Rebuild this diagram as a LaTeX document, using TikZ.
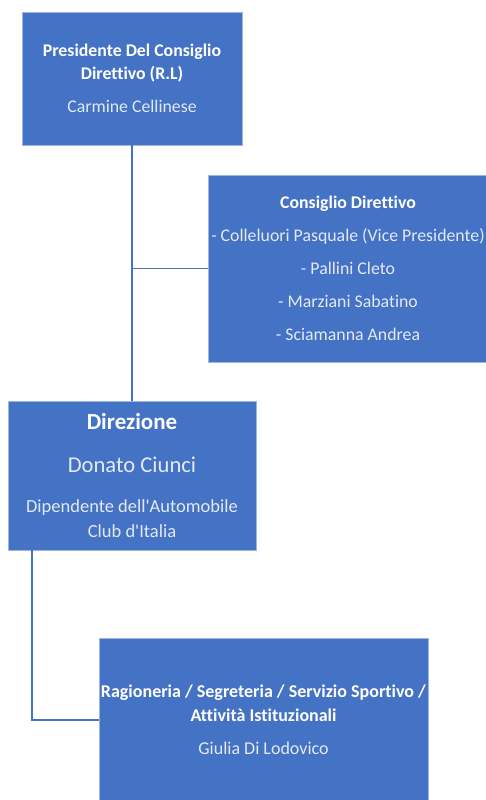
\documentclass[tikz,border=0pt]{standalone}
\usepackage{fontspec}
\setmainfont{Carlito}[Ligatures={TeXOff,CommonOff}]
\definecolor{boxblue}{HTML}{4472C4}
\definecolor{boxedge}{HTML}{9DB5E0}
\definecolor{nametext}{HTML}{E3E9F5}
\newcommand{\nm}[1]{\textcolor{nametext}{#1}}
\tikzset{
  orgbox/.style={draw=boxedge, line width=0.6pt, fill=boxblue, text=white, inner sep=0pt, align=center},
  link/.style={draw=boxblue, line width=1.6pt}
}
\begin{document}
\begin{tikzpicture}[x=1pt, y=-1pt]
\useasboundingbox (0,0) rectangle (485,800);
\node[orgbox, minimum width=220, minimum height=133, font=\fontsize{17.8}{23}\selectfont] (pres) at (132,78.5)
  {\textbf{Presidente Del Consiglio}\\\textbf{Direttivo (R.L)}\\[10pt]\nm{Carmine Cellinese}};
\node[orgbox, minimum width=280, minimum height=187, font=\fontsize{17.8}{33}\selectfont] (consiglio) at (348,268.5)
  {\textbf{Consiglio Direttivo}\\\nm{- Colleluori Pasquale (Vice Presidente)}\\\nm{- Pallini Cleto}\\\nm{- Marziani Sabatino}\\\nm{- Sciamanna Andrea}};
\node[orgbox, minimum width=248, minimum height=149, font=\fontsize{18.5}{25}\selectfont] (direzione) at (132,475.5)
  {\fontsize{23}{25}\selectfont\textbf{Direzione}\\[18pt]\fontsize{22.6}{25}\selectfont\nm{Donato Ciunci}\\[15pt]\nm{Dipendente dell'Automobile}\\\nm{Club d'Italia}};
\node[orgbox, minimum width=329, minimum height=164, font=\fontsize{18}{24}\selectfont] (uffici) at (263.5,720)
  {\textbf{Ragioneria / Segreteria / Servizio Sportivo /}\\\textbf{Attività Istituzionali}\\[9pt]\nm{Giulia Di Lodovico}};
\coordinate (dirfoot) at ([xshift=24]direzione.south west);
\draw[link] (pres.south) -- (direzione.north);
\draw[link] (pres.south |- consiglio.west) -- (consiglio.west);
\draw[link] (dirfoot) |- (uffici.west);
\end{tikzpicture}
\end{document}
